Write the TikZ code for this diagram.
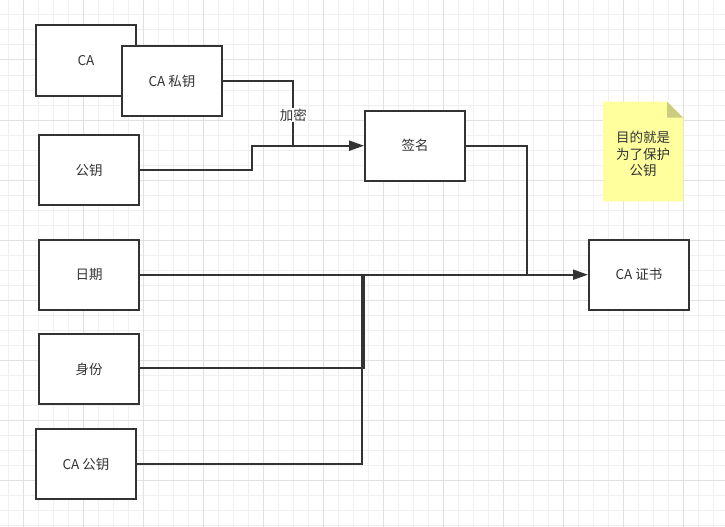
\documentclass[tikz,border=0pt]{standalone}
\usepackage{fontspec}
\setmainfont{Noto Sans CJK SC}
\usetikzlibrary{arrows.meta, positioning}
\definecolor{EdgeGray}{HTML}{333333}
\definecolor{GridMinor}{HTML}{F0F0F0}
\definecolor{GridMajor}{HTML}{E0E0E0}
\definecolor{NoteFill}{HTML}{FFFF9E}
\definecolor{NoteFold}{HTML}{CCCC7E}
\tikzset{
    box/.style={draw=EdgeGray, fill=white, line width=2pt, minimum width=100pt, minimum height=70pt, inner sep=0pt, text=EdgeGray},
    wire/.style={draw=EdgeGray, line width=2pt},
    arrowwire/.style={wire, -{Triangle[length=15pt, width=10pt]}},
}

\begin{document}
\begin{tikzpicture}[x=1pt, y=-1pt, font=\fontsize{13.5}{16.5}\selectfont]

    % Page and grid
    \useasboundingbox (0,0) rectangle (725,527);
    \fill[white] (0,0) rectangle (725,527);
    \foreach \gx in {8.3,23.3,...,725} \draw[GridMinor, line width=1pt] (\gx,0) -- (\gx,527);
    \foreach \gy in {15,30,...,527} \draw[GridMinor, line width=1pt] (0,\gy) -- (725,\gy);
    \foreach \gx in {23.3,83.3,...,725} \draw[GridMajor, line width=1pt] (\gx,0) -- (\gx,527);
    \foreach \gy in {0,60,...,527} \draw[GridMajor, line width=1pt] (0,\gy) -- (725,\gy);

    % Boxes
    \node[box] (ca) at (86,60.5) {CA};
    \node[box] (capriv) at (172,81) {CA 私钥};
    \node[box] (pub) at (89,170) {公钥};
    \node[box] (sig) at (415,145.7) {签名};
    \node[box] (date) at (89,274.7) {日期};
    \node[box] (id) at (89,369) {身份};
    \node[box] (capub) at (86,464) {CA 公钥};
    \node[box] (cert) at (639,274.7) {CA 证书};

    % Note
    \fill[NoteFill] (603,101.7) -- (667,101.7) -- (683,117.7) -- (683,201.3) -- (603,201.3) -- cycle;
    \fill[NoteFold] (667,101.7) -- (683,117.7) -- (667,117.7) -- cycle;
    \node[text=EdgeGray, align=center, inner sep=0pt] (goal) at (643,154) {目的就是\\为了保护\\公钥};

    % Signing
    \coordinate (enc) at (293.3,145.7);
    \draw[wire] (capriv.east |- 0,81) -| (enc);
    \node[fill=white, text=EdgeGray, inner sep=1pt] (enclabel) at (293.3,115) {加密};
    \draw[arrowwire] (pub.east) -- (252.3,170) |- (sig.west);

    % Certificate
    \coordinate (merge) at (527,274.7);
    \draw[wire] (sig.east) -| (merge);
    \draw[arrowwire] (date.east) -- (cert.west);
    \draw[wire] (id.east |- 0,368.3) -| (363.5,274.7);
    \draw[wire] (capub.east) -| (362.3,274.7);

\end{tikzpicture}
\end{document}
